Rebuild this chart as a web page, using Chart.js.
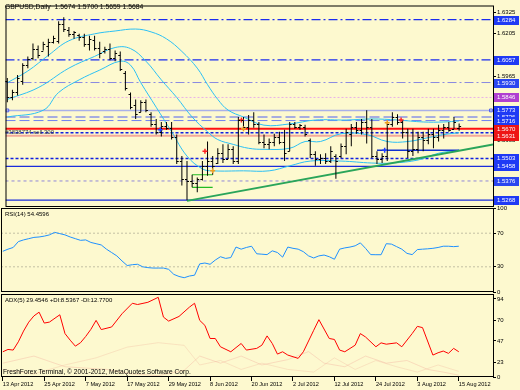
<!DOCTYPE html>
<html>
<head>
<meta charset="utf-8">
<script src="https://cdn.jsdelivr.net/npm/chart.js@4.4.1/dist/chart.umd.min.js"></script>
<style>
  body { margin: 0; background: #fdf9cf; }
  #wrap { position: relative; width: 520px; height: 390px; background: #fdf9cf; overflow: hidden; }
  canvas { position: absolute; left: 0; top: 0; }
</style>
</head>
<body>
<div id="wrap">
  <canvas id="main" width="520" height="390"></canvas>
  <canvas id="rsi" width="520" height="390"></canvas>
  <canvas id="adx" width="520" height="390"></canvas>
</div>
<script>
// bar index 0 = 13 Apr 2012, one bar per trading day
const dateBars = [0, 8, 16, 24, 32, 40, 48, 56, 64, 72, 80, 88];
const dateLabels = ['13 Apr 2012', '25 Apr 2012', '7 May 2012', '17 May 2012', '29 May 2012', '8 Jun 2012',
  '20 Jun 2012', '2 Jul 2012', '12 Jul 2012', '24 Jul 2012', '3 Aug 2012', '15 Aug 2012'];

const opens = [1.5940,1.5846,1.5874,1.5940,1.6028,1.6066,1.6121,1.6110,1.6138,1.6160,
  1.6165,1.6259,1.6226,1.6204,1.6198,1.6187,1.6149,1.6171,1.6127,1.6105,
  1.6121,1.6066,1.6083,1.5984,1.5863,1.5802,1.5763,1.5819,1.5752,1.5697,
  1.5653,1.5686,1.5675,1.5626,1.5488,1.5389,1.5378,1.5367,1.5389,1.5461,
  1.5488,1.5477,1.5532,1.5499,1.5554,1.5488,1.5719,1.5681,1.5719,1.5697,
  1.5598,1.5582,1.5598,1.5626,1.5598,1.5543,1.5697,1.5681,1.5681,1.5609,
  1.5527,1.5499,1.5505,1.5488,1.5516,1.5516,1.5571,1.5642,1.5681,1.5664,
  1.5708,1.5681,1.5516,1.5499,1.5516,1.5697,1.5736,1.5708,1.5653,1.5543,
  1.5554,1.5626,1.5609,1.5642,1.5626,1.5664,1.5681,1.5670,1.5674];
const highs = [1.5956,1.5890,1.5973,1.6039,1.6077,1.6149,1.6138,1.6160,1.6176,1.6193,
  1.6275,1.6297,1.6242,1.6220,1.6204,1.6204,1.6193,1.6193,1.6160,1.6132,
  1.6149,1.6110,1.6105,1.5995,1.5874,1.5835,1.5830,1.5835,1.5763,1.5725,
  1.5708,1.5708,1.5708,1.5637,1.5516,1.5488,1.5411,1.5395,1.5488,1.5598,
  1.5516,1.5560,1.5582,1.5582,1.5571,1.5736,1.5736,1.5747,1.5763,1.5708,
  1.5637,1.5615,1.5642,1.5653,1.5664,1.5708,1.5708,1.5697,1.5692,1.5615,
  1.5543,1.5527,1.5532,1.5571,1.5527,1.5587,1.5670,1.5697,1.5708,1.5725,
  1.5774,1.5725,1.5543,1.5532,1.5708,1.5763,1.5752,1.5719,1.5670,1.5670,
  1.5653,1.5653,1.5670,1.5670,1.5692,1.5697,1.5708,1.5736,1.5700];
const lows = [1.5819,1.5830,1.5857,1.5918,1.6011,1.6055,1.6066,1.6110,1.6077,1.6149,
  1.6149,1.6215,1.6187,1.6176,1.6165,1.6132,1.6110,1.6110,1.6066,1.6094,
  1.6055,1.6050,1.5995,1.5885,1.5780,1.5725,1.5763,1.5763,1.5681,1.5637,
  1.5626,1.5664,1.5609,1.5472,1.5351,1.5268,1.5340,1.5312,1.5378,1.5406,
  1.5411,1.5472,1.5477,1.5499,1.5472,1.5472,1.5659,1.5637,1.5675,1.5582,
  1.5560,1.5554,1.5571,1.5582,1.5488,1.5543,1.5670,1.5664,1.5626,1.5505,
  1.5461,1.5472,1.5472,1.5477,1.5389,1.5505,1.5527,1.5571,1.5642,1.5637,
  1.5587,1.5505,1.5472,1.5477,1.5488,1.5681,1.5692,1.5615,1.5505,1.5516,
  1.5532,1.5543,1.5582,1.5560,1.5598,1.5615,1.5653,1.5670,1.5659];
const closes = [1.5846,1.5874,1.5956,1.6028,1.6061,1.6121,1.6083,1.6149,1.6160,1.6182,
  1.6259,1.6231,1.6204,1.6215,1.6187,1.6149,1.6176,1.6127,1.6094,1.6121,
  1.6066,1.6094,1.6006,1.5901,1.5791,1.5752,1.5819,1.5774,1.5697,1.5653,
  1.5686,1.5675,1.5626,1.5488,1.5389,1.5378,1.5367,1.5389,1.5461,1.5488,
  1.5461,1.5532,1.5499,1.5554,1.5488,1.5719,1.5681,1.5719,1.5697,1.5598,
  1.5582,1.5598,1.5626,1.5598,1.5532,1.5697,1.5681,1.5692,1.5642,1.5527,
  1.5499,1.5505,1.5488,1.5543,1.5488,1.5571,1.5653,1.5681,1.5664,1.5708,
  1.5681,1.5516,1.5499,1.5516,1.5697,1.5736,1.5708,1.5653,1.5543,1.5554,
  1.5626,1.5609,1.5642,1.5626,1.5664,1.5681,1.5664,1.5708,1.5684];

// Bollinger bands, read at their bends
const bbUpperBars = [0, 4, 8, 12, 17, 21, 25, 28, 31, 34, 37, 39, 41, 43, 46, 50, 55, 60, 66, 71, 76, 81, 85, 88];
const bbUpper = [1.5929,1.5995,1.6083,1.6165,1.6204,1.6220,1.6231,1.6215,1.6176,1.6105,1.6011,1.5918,
  1.5835,1.5775,1.5736,1.5690,1.5697,1.5719,1.5719,1.5725,1.5719,1.5708,1.5708,1.5714];
const bbMiddleBars = [0, 6, 12, 17, 21, 24, 27, 30, 33, 36, 39, 41, 44, 47, 50, 55, 58, 61, 65, 70, 74, 78, 82, 85, 88];
const bbMiddle = [1.5835,1.5901,1.6011,1.6077,1.6127,1.6121,1.6050,1.5945,1.5846,1.5736,1.5653,1.5609,
  1.5582,1.5560,1.5554,1.5560,1.5598,1.5598,1.5642,1.5637,1.5598,1.5598,1.5620,1.5637,1.5648];
const bbLowerBars = [0, 7, 10, 14, 18, 22, 24, 26, 29, 32, 35, 38, 40, 46, 51, 55, 59, 65, 71, 75, 80, 84, 88];
const bbLower = [1.5736,1.5774,1.5874,1.5945,1.6000,1.6050,1.6028,1.5929,1.5791,1.5653,1.5516,1.5444,
  1.5433,1.5433,1.5433,1.5461,1.5488,1.5488,1.5477,1.5477,1.5494,1.5532,1.5549];

// horizontal price levels and plain scale ticks
const levelPrices = [1.6284, 1.6057, 1.5930, 1.5846, 1.5773, 1.5736, 1.5716, 1.5670, 1.5648, 1.5631,
  1.5503, 1.5458, 1.5376, 1.5268];
const priceTicks = [1.6325, 1.6205, 1.6065, 1.5965, 1.5605];

const trendBars = [35, 94.6];
const trendPrices = [1.5264, 1.5582];
const boxLineBars = [36, 40];
const boxLineTop = 1.5411;
const boxLineBottom = 1.5340;
const supportBars = [72, 88];
const supportPrice = 1.5549;
const redMarks = [[38.5, 1.5543], [45.6, 1.5719], [76.7, 1.5719]];
const orangeMarks = [[74, 1.5703], [40, 1.5433], [46, 1.5670]];
const blueMarks = [[29.8, 1.5664], [73.5, 1.5549]];

const rsi = [48.5,51,53,60,62,63.5,65,65.5,66.5,68,71,69.5,68,65.5,63.5,61.5,62,59,57.5,56,
  51,47,43,37,31.5,32.5,33,30,29,28.5,28.5,28.5,27,21,18.5,17,19,20,33.5,34.5,
  33,38,42,40,41,53.5,51,53,54.5,45.5,45,44.5,49,47,41.5,53.5,52,51,48,43,
  40.5,43,44,42,39,51,52.5,53.5,55,58.5,52,44.5,44.4,44.4,57.5,57,54,51,46,44.5,
  50.5,51,51.4,52,53,54.5,54.5,54,54.5];
const rsiTicks = [0, 30, 70, 100];
const rsiLevels = [30, 70];

const adxBars = [0,1,2,3,4,5,6,7,8,9,11,12,13,14,15,16,17,18,19,21,23,25,26,28,30,31,32,34,36,37,38,39,40,41,42,44,
  46,47,49,50,51,52,53,54,55,57,58,60,61,63,64,65,66,68,69,70,72,73,74,76,77,79,80,81,83,84,85,86,87,88];
const adx = [34.8,37.4,36.7,46,58,68,75,79.2,67,68.1,76.3,55.2,47.8,41.1,45,52,60,70,59.7,62.6,77.4,89.2,87.8,90.3,
  95.9,73.7,69.2,74.4,84.8,89.2,70,64.4,49.7,49.7,40.4,34.8,
  44.1,36.7,38.6,42.2,52.6,44.1,32.2,34.8,31.1,27.4,34.8,58.9,70.8,49.7,48.6,36.7,34.8,42.2,55.2,51.4,40.4,44.8,
  43.3,44.8,40.4,55.2,63.3,61.9,31.1,33.7,35.6,33,38.6,34.8];
const plusDiBars = [0, 6, 12, 20, 25, 30, 35, 38, 42, 46, 50, 55, 59, 62, 66, 70, 74, 78, 82, 85, 88];
const plusDi = [22, 30, 18, 15, 10, 8, 14, 30, 22, 30, 20, 26, 35, 22, 18, 30, 22, 25, 15, 12, 8.5];
const minusDiBars = [0, 6, 12, 18, 24, 30, 35, 38, 42, 46, 50, 55, 60, 64, 68, 72, 76, 80, 84, 88];
const minusDi = [15, 10, 20, 28, 40, 45, 42, 20, 25, 15, 22, 15, 12, 28, 15, 25, 18, 12, 20, 12.8];
const adxTicks = [94, 70, 47, 23];

const FONT = "'Liberation Sans', Arial, sans-serif";
const BG = '#fdf9cf';
const X_MIN = -0.35, X_MAX = 94.6;

const levelStyles = [
  {color: '#1a2cf0', dash: [9, 3, 2, 3], width: 1.3, box: '#1f3af5'},
  {color: '#1a2cf0', dash: [9, 3, 2, 3], width: 1.3, box: '#1f3af5'},
  {color: '#8a8ae0', dash: [9, 3, 2, 3], width: 1, box: '#2a46f0'},
  {color: '#e8b0e8', dash: [2, 2], width: 1, box: '#b040d0'},
  {color: '#aab0e8', dash: [], width: 1.5, box: '#1f3af5'},
  {color: '#5060f0', dash: [10, 4], width: 1, box: '#1f3af5'},
  {color: '#7080f0', dash: [10, 4], width: 1, box: '#1f3af5'},
  {color: '#ff1010', dash: [], width: 2, box: '#ee1515'},
  {color: '#1020e0', dash: [3, 2], width: 1.5, box: null},
  {color: '#f4a898', dash: [], width: 2, box: '#ee1515'},
  {color: '#1020e0', dash: [3, 2], width: 1.5, box: '#1f3af5'},
  {color: '#1a2cdc', dash: [], width: 1.3, box: '#1f3af5'},
  {color: '#9088d8', dash: [3, 3], width: 1, box: '#2a46f0'},
  {color: '#1a2cdc', dash: [], width: 1.3, box: '#1f3af5'}
];

function pts(xs, ys) { return xs.map((x, i) => ({x: x, y: ys[i]})); }
function hline(x0, x1, v, color, width, dash, order) {
  return {type: 'line', data: [{x: x0, y: v}, {x: x1, y: v}], borderColor: color, borderWidth: width,
    borderDash: dash || [], pointRadius: 0, order: order || 5};
}
function marks(list, color) {
  return {type: 'line', data: list.map(m => ({x: m[0], y: m[1]})), showLine: false, pointStyle: 'cross',
    pointRadius: 2.5, borderColor: color, borderWidth: 1.5, order: 0};
}

function xAxis(show) {
  return {
    type: 'linear', min: X_MIN, max: X_MAX, offset: false, display: show,
    afterBuildTicks: s => { s.ticks = dateBars.map(v => ({value: v})); },
    afterFit: s => { if (show) s.height = 13; s.paddingLeft = 0; s.paddingRight = 0; },
    grid: {display: show, drawOnChartArea: false, drawTicks: true, tickLength: 4, color: '#000'},
    border: {display: false},
    ticks: {display: show, align: 'start', padding: 0, maxRotation: 0, autoSkip: false, color: '#000',
      font: {family: FONT, size: 5.6}, callback: v => dateLabels[dateBars.indexOf(v)]}
  };
}
function yAxis(min, max, ticks, fmt) {
  return {
    position: 'right', min: min, max: max,
    afterFit: s => { s.width = 27; s.paddingTop = 0; s.paddingBottom = 0; },
    afterBuildTicks: s => { s.ticks = ticks.map(v => ({value: v})); },
    grid: {drawOnChartArea: false, drawTicks: true, tickLength: 3, color: '#000'},
    border: {display: false},
    ticks: {padding: 1, color: '#000', font: {family: FONT, size: 6}, callback: fmt}
  };
}

const frame = {
  id: 'frame',
  afterDraw(c) {
    const a = c.chartArea, ctx = c.ctx;
    ctx.save();
    ctx.strokeStyle = '#000';
    ctx.lineWidth = 1;
    ctx.strokeRect(a.left + 0.5, a.top + 0.5, a.right - a.left, a.bottom - a.top - 1);
    ctx.restore();
  }
};
const texts = {
  id: 'texts',
  afterDraw(c, args, opts) {
    const ctx = c.ctx;
    ctx.save();
    ctx.textBaseline = 'middle';
    ctx.textAlign = 'left';
    (opts.items || []).forEach(t => {
      ctx.font = t.size + 'px ' + FONT;
      ctx.fillStyle = t.color || '#000';
      ctx.fillText(t.text, t.x, t.y);
    });
    ctx.restore();
  }
};
const ohlcTicks = {
  id: 'ohlcTicks',
  afterDatasetsDraw(c) {
    const xs = c.scales.x, ys = c.scales.y, ctx = c.ctx;
    ctx.save();
    ctx.strokeStyle = '#000';
    ctx.lineWidth = 1;
    ctx.beginPath();
    opens.forEach((o, i) => {
      const x = xs.getPixelForValue(i);
      const yo = Math.round(ys.getPixelForValue(o)) + 0.5;
      const yc = Math.round(ys.getPixelForValue(closes[i])) + 0.5;
      ctx.moveTo(x - 2, yo); ctx.lineTo(x, yo);
      ctx.moveTo(x, yc); ctx.lineTo(x + 2, yc);
    });
    ctx.stroke();
    ctx.restore();
  }
};
const priceBoxes = {
  id: 'priceBoxes',
  afterDraw(c) {
    const ys = c.scales.y, ctx = c.ctx, right = c.chartArea.right;
    ctx.save();
    ctx.font = '6px ' + FONT;
    ctx.textBaseline = 'middle';
    levelPrices.forEach((v, i) => {
      const st = levelStyles[i];
      if (!st.box) return;
      const y = Math.round(ys.getPixelForValue(v));
      ctx.fillStyle = st.box;
      ctx.fillRect(right + 1, y - 4, 25, 9);
      ctx.fillStyle = '#fff';
      ctx.fillText(v.toFixed(4), right + 4, y + 0.5);
    });
    ctx.restore();
  }
};

const common = {
  responsive: false, animation: false, events: [],
  plugins: {legend: {display: false}, tooltip: {enabled: false}}
};

// ---- main price panel
const mainSets = [
  {type: 'bar', data: highs.map((h, i) => ({x: i, y: [lows[i], h]})), backgroundColor: '#000',
    barThickness: 1, inflateAmount: 0, borderWidth: 0, order: 1},
  {type: 'line', data: pts(bbUpperBars, bbUpper), borderColor: '#2cc0f4', borderWidth: 1, pointRadius: 0, tension: 0.4, order: 3},
  {type: 'line', data: pts(bbMiddleBars, bbMiddle), borderColor: '#2cc0f4', borderWidth: 1, pointRadius: 0, tension: 0.4, order: 3},
  {type: 'line', data: pts(bbLowerBars, bbLower), borderColor: '#2cc0f4', borderWidth: 1, pointRadius: 0, tension: 0.4, order: 3},
  {type: 'line', data: pts(trendBars, trendPrices), borderColor: '#2aa55a', borderWidth: 2, pointRadius: 0, order: 2},
  hline(boxLineBars[0], boxLineBars[1], boxLineTop, '#22bb22', 1.2, [], 2),
  hline(boxLineBars[0], boxLineBars[1], boxLineBottom, '#22bb22', 1.2, [], 2),
  hline(supportBars[0], supportBars[1], supportPrice, '#1030d0', 1.5, [], 2),
  marks(redMarks, '#ff2020'),
  marks(orangeMarks, '#f0a020'),
  marks(blueMarks, '#2040ff'),
  {type: 'line', data: [{x: 0, y: levelPrices[4]}, {x: 94.2, y: levelPrices[4]}], showLine: false,
    pointStyle: 'rect', pointRadius: 2, borderColor: '#5060f0', backgroundColor: 'rgba(0,0,0,0)', borderWidth: 1, order: 0}
].concat(levelPrices.map((v, i) => hline(X_MIN, X_MAX, v, levelStyles[i].color, levelStyles[i].width, levelStyles[i].dash, 5)));

new Chart(document.getElementById('main'), {
  type: 'bar',
  data: {datasets: mainSets},
  options: Object.assign({}, common, {
    layout: {padding: {left: 1, top: 1, right: 0, bottom: 183}},
    scales: {x: xAxis(false), y: yAxis(1.52295, 1.63635, priceTicks, v => v.toFixed(4))},
    plugins: Object.assign({}, common.plugins, {texts: {items: [
      {text: 'GBPUSD,Daily  1.5674 1.5700 1.5659 1.5684', x: 5, y: 7, size: 6.8},
      {text: '#3838774 sell 300', x: 5, y: 132, size: 6, color: '#404040'}
    ]}})
  }),
  plugins: [frame, ohlcTicks, priceBoxes, texts]
});

// ---- RSI panel
new Chart(document.getElementById('rsi'), {
  type: 'line',
  data: {datasets: [
    {data: rsi.map((v, i) => ({x: i, y: v})), borderColor: '#1e90ff', borderWidth: 1, pointRadius: 0, order: 1}
  ].concat(rsiLevels.map(v => hline(X_MIN, X_MAX, v, '#c4c0a4', 1, [2, 2], 5)))},
  options: Object.assign({}, common, {
    layout: {padding: {left: 1, top: 208, right: 0, bottom: 98}},
    scales: {x: xAxis(false), y: yAxis(0, 100, rsiTicks, v => String(v))},
    plugins: Object.assign({}, common.plugins, {texts: {items: [
      {text: 'RSI(14) 54.4596', x: 5, y: 214, size: 6}
    ]}})
  }),
  plugins: [frame, texts]
});

// ---- ADX panel
new Chart(document.getElementById('adx'), {
  type: 'line',
  data: {datasets: [
    {data: pts(adxBars, adx), borderColor: '#ff0000', borderWidth: 1, pointRadius: 0, order: 1},
    {data: pts(plusDiBars, plusDi), borderColor: 'rgba(245,185,165,0.45)', borderWidth: 1, pointRadius: 0, order: 2},
    {data: pts(minusDiBars, minusDi), borderColor: 'rgba(245,200,170,0.45)', borderWidth: 1, pointRadius: 0, order: 2}
  ]},
  options: Object.assign({}, common, {
    layout: {padding: {left: 1, top: 294, right: 0, bottom: 0}},
    scales: {x: xAxis(true), y: yAxis(6.5, 99.6, adxTicks.concat([6.5]), v => v === 6.5 ? '0' : String(v))},
    plugins: Object.assign({}, common.plugins, {texts: {items: [
      {text: 'ADX(5) 29.4546 +DI:8.5367 -DI:12.7700', x: 5, y: 300, size: 6},
      {text: 'FreshForex Terminal, \u00a9 2001-2012, MetaQuotes Software Corp.', x: 3, y: 372, size: 6.6}
    ]}})
  }),
  plugins: [frame, texts]
});
</script>
</body>
</html>
